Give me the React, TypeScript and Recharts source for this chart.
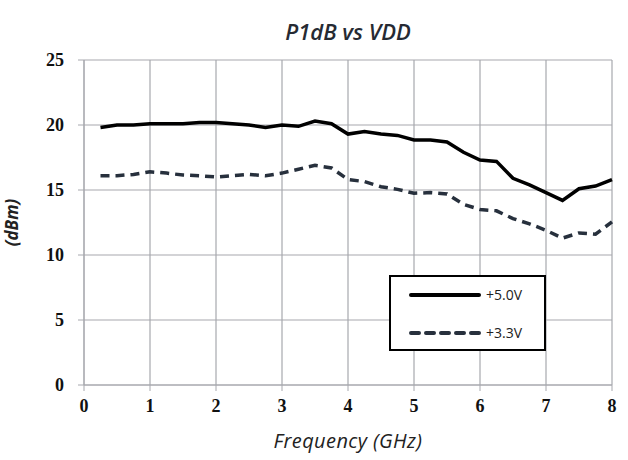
import React from 'react';
import {
  LineChart,
  Line,
  XAxis,
  YAxis,
  CartesianGrid,
  Label,
} from 'recharts';

// Frequency sweep in GHz
const freqs = [
  0.25, 0.5, 0.75, 1, 1.25, 1.5, 1.75, 2, 2.25, 2.5, 2.75, 3, 3.25, 3.5, 3.75, 4,
  4.25, 4.5, 4.75, 5, 5.25, 5.5, 5.75, 6, 6.25, 6.5, 6.75, 7, 7.25, 7.5, 7.75, 8,
];

// P1dB (dBm) at VDD = +5.0V
const p1dbVdd50 = [
  19.8, 20.0, 20.0, 20.1, 20.1, 20.1, 20.2, 20.2, 20.1, 20.0, 19.8, 20.0, 19.9, 20.3, 20.1, 19.3,
  19.5, 19.3, 19.2, 18.85, 18.85, 18.7, 17.9, 17.3, 17.2, 15.9, 15.4, 14.8, 14.2, 15.1, 15.3, 15.8,
];

// P1dB (dBm) at VDD = +3.3V
const p1dbVdd33 = [
  16.1, 16.1, 16.2, 16.4, 16.3, 16.15, 16.1, 16.0, 16.1, 16.2, 16.1, 16.3, 16.6, 16.9, 16.7, 15.8,
  15.65, 15.25, 15.05, 14.75, 14.8, 14.7, 13.9, 13.5, 13.4, 12.8, 12.4, 11.9, 11.3, 11.7, 11.6, 12.55,
];

const xTicks = [0, 1, 2, 3, 4, 5, 6, 7, 8];
const yTicks = [0, 5, 10, 15, 20, 25];

const data = freqs.map((f, i) => ({ freq: f, v50: p1dbVdd50[i], v33: p1dbVdd33[i] }));

const gridColor = '#a7a8ae';
const tickFont = { fontFamily: '"Liberation Serif", serif', fontWeight: 700, fontSize: 18, fill: '#111' };
const sans = '"Open Sans", sans-serif';

// Boxed legend drawn over the plot area
const LegendBox = () => (
  <div
    style={{
      position: 'absolute',
      left: 389,
      top: 275,
      width: 153,
      height: 72,
      border: '2px solid #000',
      background: '#fff',
    }}
  >
    <svg width={153} height={72} style={{ display: 'block' }}>
      <line x1={20} x2={88} y1={18} y2={18} stroke="#000" strokeWidth={4} strokeLinecap="round" />
      <text x={95} y={23} fontSize={14} fill="#222" fontFamily={sans}>+5.0V</text>
      <line x1={20} x2={88} y1={56} y2={56} stroke="#27303d" strokeWidth={4} strokeDasharray="8 7" strokeLinecap="round" />
      <text x={95} y={61} fontSize={14} fill="#222" fontFamily={sans}>+3.3V</text>
    </svg>
  </div>
);

export default function App() {
  return (
    <div style={{ position: 'absolute', left: 0, top: 0, width: 628, height: 460, background: '#fff' }}>
      <div
        style={{
          position: 'absolute',
          top: 16,
          left: 84,
          width: 528,
          textAlign: 'center',
          fontFamily: sans,
          fontStyle: 'italic',
          fontWeight: 600,
          fontSize: 22,
          color: '#262a33',
        }}
      >
        P1dB vs VDD
      </div>
      <LineChart width={628} height={460} data={data} margin={{ top: 60, right: 16, bottom: 0, left: 0 }}>
        <CartesianGrid stroke={gridColor} strokeWidth={1.2} />
        <XAxis
          dataKey="freq"
          type="number"
          domain={[0, 8]}
          ticks={xTicks}
          height={75}
          stroke={gridColor}
          tickSize={6}
          tickMargin={8}
          tick={tickFont}
        >
          <Label
            value="Frequency (GHz)"
            position="insideBottom"
            offset={12}
            style={{ fontFamily: sans, fontStyle: 'italic', fontSize: 20, letterSpacing: 0.4, fill: '#222' }}
          />
        </XAxis>
        <YAxis
          type="number"
          domain={[0, 25]}
          ticks={yTicks}
          width={84}
          stroke={gridColor}
          tickSize={6}
          tickMargin={14}
          tick={tickFont}
        >
          <Label
            value="(dBm)"
            angle={-90}
            position="insideLeft"
            offset={12}
            style={{
              textAnchor: 'middle',
              fontFamily: sans,
              fontStyle: 'italic',
              fontWeight: 700,
              fontSize: 17,
              fill: '#222',
            }}
          />
        </YAxis>
        <Line
          dataKey="v50"
          name="+5.0V"
          stroke="#000"
          strokeWidth={3.5}
          dot={false}
          type="linear"
          isAnimationActive={false}
        />
        <Line
          dataKey="v33"
          name="+3.3V"
          stroke="#27303d"
          strokeWidth={3.5}
          strokeDasharray="9 6"
          dot={false}
          type="linear"
          isAnimationActive={false}
        />
      </LineChart>
      <LegendBox />
    </div>
  );
}
